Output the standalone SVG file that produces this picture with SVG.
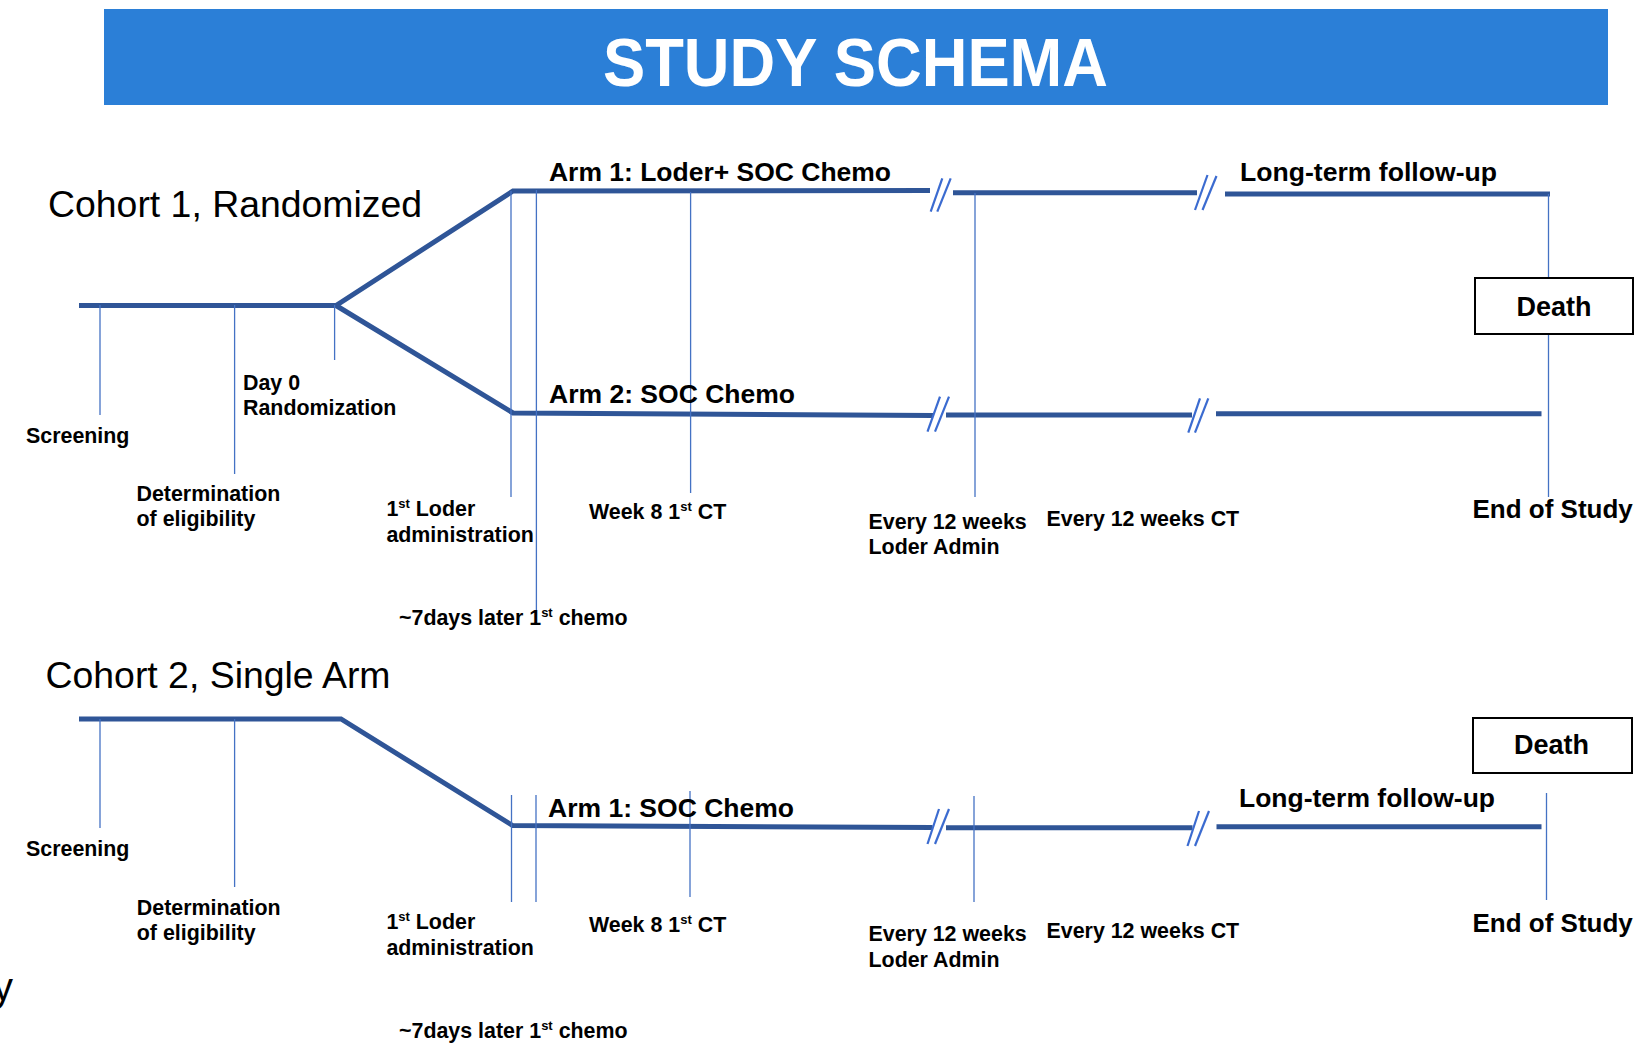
<svg xmlns="http://www.w3.org/2000/svg" width="1634" height="1057" viewBox="0 0 1634 1057">
<style>
  text { font-family: "Liberation Sans", Arial, sans-serif; fill: #000; }
  .title { font-size: 68px; font-weight: bold; fill: #fff; }
  .cohort { font-size: 37.4px; }
  .lbl { font-size: 21.4px; font-weight: bold; }
  .arm { font-size: 26px; font-weight: bold; }
  .sup { font-size: 13px; }
  .thick { fill: none; stroke: #2F5597; stroke-width: 5; stroke-linejoin: miter; }
  .tick { fill: none; stroke: #4472C4; stroke-width: 1.3; }
  .brk { fill: none; stroke: #3B6BD0; stroke-width: 2.2; }
  .box { fill: #fff; stroke: #000; stroke-width: 2; }
</style>
<rect width="1634" height="1057" fill="#fff"/>

<g id="title">
  <rect x="104" y="9" width="1504" height="96" fill="#2B7FD7"/>
  <text class="title" x="603" y="85.5" textLength="505" lengthAdjust="spacingAndGlyphs">STUDY SCHEMA</text>
</g>

<g id="connectors">
  <!-- Cohort 1 -->
  <polyline class="thick" points="79,305.5 336,305.5 513,191 930,190.5"/>
  <polyline class="thick" points="336,305.5 513,413 933,415.5"/>
  <line class="thick" x1="953" y1="192.7" x2="1197" y2="192.7"/>
  <line class="thick" x1="1225" y1="194" x2="1550" y2="194"/>
  <line class="thick" x1="946" y1="415" x2="1192" y2="415"/>
  <line class="thick" x1="1216" y1="413.8" x2="1541.5" y2="413.8"/>
  <!-- Cohort 1 break marks -->
  <line class="brk" x1="930.7" y1="211.7" x2="942.3" y2="178.3"/>
  <line class="brk" x1="937.3" y1="211.7" x2="950.7" y2="178.3"/>
  <line class="brk" x1="1195" y1="210" x2="1207.5" y2="175"/>
  <line class="brk" x1="1202.5" y1="210" x2="1216.5" y2="176"/>
  <line class="brk" x1="927.5" y1="431.7" x2="940" y2="396.7"/>
  <line class="brk" x1="935" y1="431.7" x2="949" y2="396.7"/>
  <line class="brk" x1="1188.3" y1="432.7" x2="1200" y2="398.3"/>
  <line class="brk" x1="1195" y1="432.7" x2="1208.3" y2="398.3"/>
  <!-- Cohort 1 ticks -->
  <line class="tick" x1="100" y1="305" x2="100" y2="415"/>
  <line class="tick" x1="234.6" y1="305" x2="234.6" y2="474"/>
  <line class="tick" x1="334.6" y1="305" x2="334.6" y2="360"/>
  <line class="tick" x1="511" y1="191" x2="511" y2="497"/>
  <line class="tick" x1="536.4" y1="190" x2="536.4" y2="615"/>
  <line class="tick" x1="690.6" y1="192" x2="690.6" y2="493"/>
  <line class="tick" x1="975" y1="193" x2="975" y2="497"/>
  <line class="tick" x1="1548.5" y1="194" x2="1548.5" y2="278"/>
  <line class="tick" x1="1548.5" y1="334" x2="1548.5" y2="497"/>

  <!-- Cohort 2 -->
  <polyline class="thick" points="79,719 341,719 512.6,825.5 932.5,827.5"/>
  <line class="thick" x1="946" y1="827.7" x2="1192.5" y2="827.7"/>
  <line class="thick" x1="1216.5" y1="826.7" x2="1541.5" y2="826.7"/>
  <line class="brk" x1="927.5" y1="844" x2="939" y2="809"/>
  <line class="brk" x1="935" y1="844" x2="949" y2="809"/>
  <line class="brk" x1="1187.5" y1="846" x2="1199" y2="811"/>
  <line class="brk" x1="1195" y1="846" x2="1209" y2="811"/>
  <line class="tick" x1="100" y1="719" x2="100" y2="828"/>
  <line class="tick" x1="234.6" y1="719" x2="234.6" y2="887"/>
  <line class="tick" x1="511.5" y1="795" x2="511.5" y2="902"/>
  <line class="tick" x1="536" y1="795" x2="536" y2="902"/>
  <line class="tick" x1="690" y1="791" x2="690" y2="897"/>
  <line class="tick" x1="974" y1="796" x2="974" y2="902"/>
  <line class="tick" x1="1546.5" y1="793" x2="1546.5" y2="900"/>
</g>

<g id="cohort1">
  <text class="cohort" x="48" y="217">Cohort 1, Randomized</text>
  <g id="c1-screening"><text class="lbl" x="26" y="443">Screening</text></g>
  <g id="c1-eligibility"><text class="lbl" x="136.5" y="501">Determination</text><text class="lbl" x="136.5" y="526">of eligibility</text></g>
  <g id="c1-day0"><text class="lbl" x="243" y="390">Day 0</text><text class="lbl" x="243" y="415">Randomization</text></g>
  <g id="c1-loder"><text class="lbl" x="386.4" y="516">1<tspan class="sup" dy="-8">st</tspan><tspan dy="8"> Loder</tspan></text><text class="lbl" x="386.4" y="541.7">administration</text></g>
  <g id="c1-chemo"><text class="lbl" x="399" y="625">~7days later 1<tspan class="sup" dy="-8">st</tspan><tspan dy="8"> chemo</tspan></text></g>
  <g id="c1-week8"><text class="lbl" x="589" y="519">Week 8 1<tspan class="sup" dy="-8">st</tspan><tspan dy="8"> CT</tspan></text></g>
  <g id="c1-every12"><text class="lbl" x="868.5" y="529">Every 12 weeks</text><text class="lbl" x="868.5" y="554">Loder Admin</text></g>
  <g id="c1-every12ct"><text class="lbl" x="1046.5" y="526">Every 12 weeks CT</text></g>
  <g id="c1-arm1"><text class="arm" x="549" y="180.7" textLength="342" lengthAdjust="spacingAndGlyphs">Arm 1: Loder+ SOC Chemo</text></g>
  <g id="c1-arm2"><text class="arm" x="549" y="403" textLength="246" lengthAdjust="spacingAndGlyphs">Arm 2: SOC Chemo</text></g>
  <g id="c1-followup"><text class="arm" x="1240" y="180.7" textLength="257" lengthAdjust="spacingAndGlyphs">Long-term follow-up</text></g>
  <g id="c1-death"><rect class="box" x="1475" y="278" width="158" height="56"/><text class="arm" x="1516.5" y="315.7" style="font-size:27px">Death</text></g>
  <g id="c1-end"><text class="arm" x="1472.5" y="518">End of Study</text></g>
</g>

<g id="cohort2">
  <text class="cohort" x="45.5" y="688">Cohort 2, Single Arm</text>
  <g id="c2-screening"><text class="lbl" x="26" y="856">Screening</text></g>
  <g id="c2-eligibility"><text class="lbl" x="136.8" y="915">Determination</text><text class="lbl" x="136.8" y="940">of eligibility</text></g>
  <g id="c2-loder"><text class="lbl" x="386.4" y="929">1<tspan class="sup" dy="-8">st</tspan><tspan dy="8"> Loder</tspan></text><text class="lbl" x="386.4" y="955">administration</text></g>
  <g id="c2-chemo"><text class="lbl" x="399" y="1038">~7days later 1<tspan class="sup" dy="-8">st</tspan><tspan dy="8"> chemo</tspan></text></g>
  <g id="c2-week8"><text class="lbl" x="589" y="932">Week 8 1<tspan class="sup" dy="-8">st</tspan><tspan dy="8"> CT</tspan></text></g>
  <g id="c2-every12"><text class="lbl" x="868.5" y="941">Every 12 weeks</text><text class="lbl" x="868.5" y="967">Loder Admin</text></g>
  <g id="c2-every12ct"><text class="lbl" x="1046.5" y="938">Every 12 weeks CT</text></g>
  <g id="c2-arm1"><text class="arm" x="548" y="816.7" textLength="246" lengthAdjust="spacingAndGlyphs">Arm 1: SOC Chemo</text></g>
  <g id="c2-followup"><text class="arm" x="1239" y="807" textLength="256" lengthAdjust="spacingAndGlyphs">Long-term follow-up</text></g>
  <g id="c2-death"><rect class="box" x="1473" y="718" width="159" height="55"/><text class="arm" x="1514" y="754" style="font-size:27px">Death</text></g>
  <g id="c2-end"><text class="arm" x="1472.5" y="931.7">End of Study</text></g>
</g>

<text x="-7" y="1001" style="font-size:40px">y</text>
</svg>
